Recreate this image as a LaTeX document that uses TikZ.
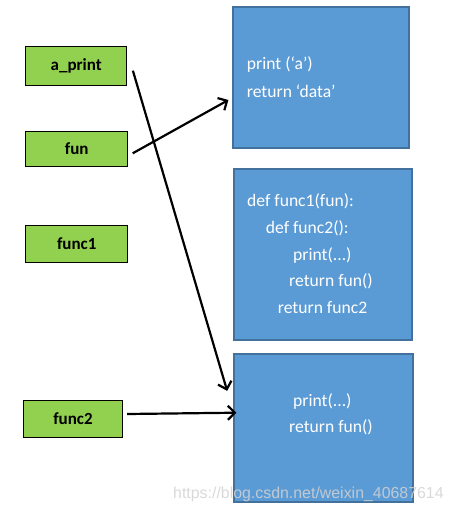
\documentclass[tikz,border=0pt]{standalone}
\usepackage{fontspec}
\setmainfont{Carlito}
\newfontfamily\markfont{Liberation Sans}
\usetikzlibrary{arrows.meta,positioning}
\definecolor{leafgreen}{HTML}{92D050}
\definecolor{codeblue}{HTML}{5B9BD5}
\definecolor{codeedge}{HTML}{41719C}
\tikzset{
  namebox/.style={draw=black, line width=0.8pt, fill=leafgreen, inner sep=0pt,
    font=\fontsize{17}{19}\selectfont\bfseries},
  codebox/.style={draw=codeedge, line width=1.8pt, fill=codeblue, inner sep=0pt},
  codeline/.style={anchor=west, inner sep=0pt, text=white,
    font=\fontsize{17.6}{20}\selectfont},
  link/.style={-{Straight Barb[length=7pt,width=14pt]}, line width=2.2pt},
}
\begin{document}
\begin{tikzpicture}[x=1pt, y=-1pt]
\useasboundingbox (0,0) rectangle (454,512);
% Names on the left
\node[namebox, minimum width=101pt, minimum height=38.6pt] (aprint) at (76.2,66) {a\_print};
\node[namebox, minimum width=102pt, minimum height=34.3pt] (fun) at (76.7,148.8) {fun};
\node[namebox, minimum width=102pt, minimum height=36.3pt] (funcone) at (76.7,243.8) {func1};
\node[namebox, minimum width=99.4pt, minimum height=37pt] (functwo) at (73,418.8) {func2};

% Objects on the right
\node[codebox, minimum width=176.6pt, minimum height=140.7pt] (boxA) at (321,77.7) {};
\node[codebox, minimum width=178.3pt, minimum height=171.3pt] (boxB) at (323.2,254.7) {};
\node[codebox, minimum width=179.3pt, minimum height=148.3pt] (boxC) at (323.7,428.2) {};

% Code in the objects
\node[codeline] (a1) at (246.7,64) {print (‘a’)};
\node[codeline] (a2) at (246.7,91) {return ‘data’};
\node[codeline] (b1) at (247,201.5) {def func1(fun):};
\node[codeline] (b2) at (265.7,228) {def func2():};
\node[codeline] (b3) at (293,255) {print(...)};
\node[codeline] (b4) at (289,281.5) {return fun()};
\node[codeline] (b5) at (277.7,308) {return func2};
\node[codeline] (c1) at (293,401) {print(...)};
\node[codeline] (c2) at (289,427.5) {return fun()};

% References
\draw[link] ([xshift=5.8pt,yshift=-4.7pt]aprint.east) -- ([xshift=-6pt,yshift=-37.7pt]boxC.north west);
\draw[link] ([xshift=4.6pt,yshift=-4.5pt]fun.east) -- ([xshift=-3.4pt,yshift=-22.3pt]boxA.west);
\draw[link] ([xshift=4pt,yshift=4.8pt]functwo.east) -- ([xshift=3.3pt,yshift=15.5pt]boxC.west);

% Watermark
\node[anchor=west, inner sep=0pt, text=gray!35, opacity=0.85,
  font=\markfont\fontsize{15.9}{18}\selectfont] (mark) at (173,494) {https://blog.csdn.net/weixin\_40687614};
\end{tikzpicture}
\end{document}
